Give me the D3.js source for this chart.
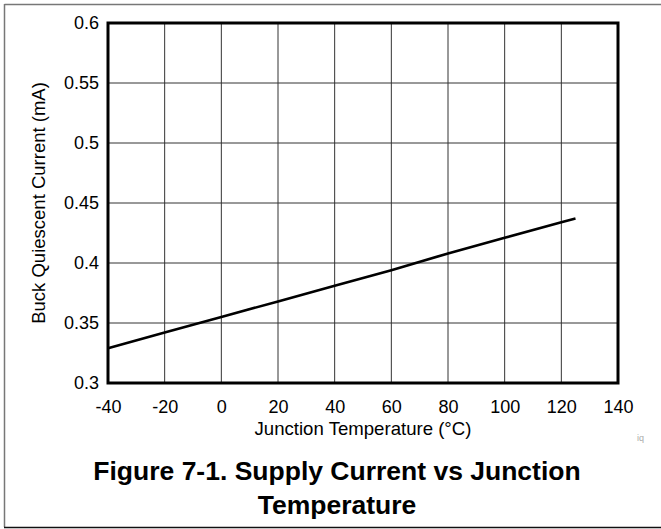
<!DOCTYPE html>
<html><head><meta charset="utf-8">
<script src="https://cdn.jsdelivr.net/npm/d3@7/dist/d3.min.js"></script>
<style>
html,body{margin:0;padding:0;background:#fff;}
svg{display:block;font-family:"Liberation Sans",Arial,sans-serif;}
</style></head>
<body><svg id="c" width="661" height="529"></svg>
<script>
const temps = [-40, -20, 0, 20, 40, 60, 80, 100, 120, 125];
const current = [0.329, 0.342, 0.355, 0.368, 0.381, 0.394, 0.408, 0.421, 0.434, 0.437];
const xTicks = [-40, -20, 0, 20, 40, 60, 80, 100, 120, 140];
const yTicks = [0.3, 0.35, 0.4, 0.45, 0.5, 0.55, 0.6];
const xTitle = "Junction Temperature (°C)";
const yTitle = "Buck Quiescent Current (mA)";
const figTitle = ["Figure 7-1. Supply Current vs Junction", "Temperature"];

const svg = d3.select("#c");
const L = 108, R = 618, T = 23, B = 383;
const x = d3.scaleLinear().domain([-40, 140]).range([L, R]);
const y = d3.scaleLinear().domain([0.3, 0.6]).range([B, T]);
const FF = "Liberation Sans, Arial, sans-serif";

// outer frame
svg.append("line").attr("x1",4.5).attr("x2",661).attr("y1",4.5).attr("y2",4.5).attr("stroke","#777").attr("stroke-width",1.5);
svg.append("line").attr("x1",4.5).attr("x2",4.5).attr("y1",4).attr("y2",527).attr("stroke","#777").attr("stroke-width",1.5);
svg.append("line").attr("x1",4).attr("x2",661).attr("y1",527.5).attr("y2",527.5).attr("stroke","#111").attr("stroke-width",1.5);

// grid
const g = svg.append("g");
g.selectAll(".vg").data(xTicks).enter().append("line")
  .attr("x1",d=>x(d)).attr("x2",d=>x(d)).attr("y1",T).attr("y2",B)
  .attr("stroke","#333").attr("stroke-width",1);
g.selectAll(".hg").data(yTicks).enter().append("line")
  .attr("x1",L).attr("x2",R).attr("y1",d=>y(d)).attr("y2",d=>y(d))
  .attr("stroke","#333").attr("stroke-width",1);

// axes with d3
const xAxis = d3.axisBottom(x).tickValues(xTicks).tickSize(0).tickPadding(17).tickFormat(d=>String(d));
const yAxis = d3.axisLeft(y).tickValues(yTicks).tickSize(0).tickPadding(9).tickFormat(d=>String(+d.toFixed(2)));
const gx = svg.append("g").attr("transform",`translate(0,${B})`).call(xAxis);
const gy = svg.append("g").attr("transform",`translate(${L},0)`).call(yAxis);
[gx,gy].forEach(a=>{a.select(".domain").remove(); a.attr("font-size",18).attr("font-family",FF); a.selectAll("text").attr("font-size",18).attr("fill","#000").attr("font-family",FF);});

// data line
const line = d3.line().x((d,i)=>x(temps[i])).y(d=>y(d));
svg.append("path").datum(current).attr("d",line).attr("fill","none").attr("stroke","#000").attr("stroke-width",2.6);

// plot frame
svg.append("rect").attr("x",L).attr("y",T).attr("width",R-L).attr("height",B-T)
  .attr("fill","none").attr("stroke","#000").attr("stroke-width",3);

// titles
svg.append("text").attr("x",(L+R)/2).attr("y",435).attr("text-anchor","middle").attr("font-size",18.6).text(xTitle);
svg.append("text").attr("transform",`translate(45,${(T+B)/2}) rotate(-90)`).attr("text-anchor","middle").attr("font-size",18.5).text(yTitle);
svg.append("text").attr("x",637).attr("y",441).attr("font-size",9).attr("fill","#aaa").text("iq");
figTitle.forEach((t,i)=>{
  svg.append("text").attr("x",337).attr("y",480+i*34).attr("text-anchor","middle")
    .attr("font-size",26.5).attr("font-weight","bold").text(t);
});
</script></body></html>
